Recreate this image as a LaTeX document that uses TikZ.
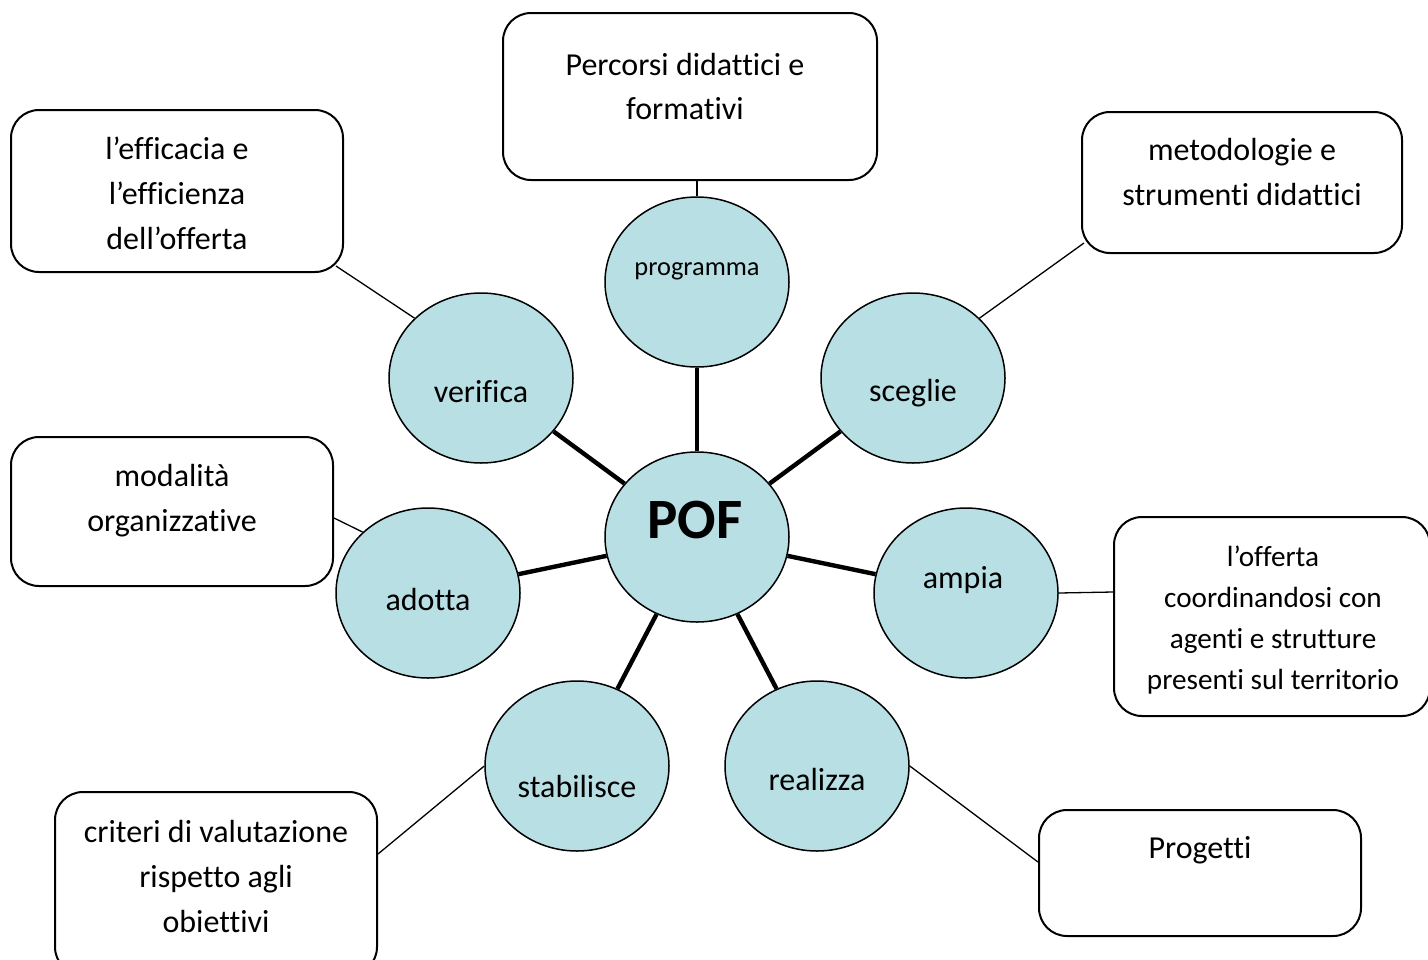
\documentclass[tikz,border=0pt]{standalone}
\usepackage{fontspec}
\setmainfont[Ligatures={NoCommon}]{Carlito}
\usetikzlibrary{shapes.geometric,calc}
\definecolor{bub}{RGB}{184,223,227}
\begin{document}
\begin{tikzpicture}[x=0.5pt,y=-0.5pt,
 bubble/.style={ellipse,draw,fill=bub,line width=0.75pt,minimum width=92pt,minimum height=85pt,inner sep=0pt},
 box/.style={draw,rounded corners=14pt,line width=1pt,inner sep=0pt},
 txt/.style={anchor=base,inner sep=0pt,font=\fontsize{16}{19}\selectfont},
 stxt/.style={anchor=base,inner sep=0pt,font=\fontsize{14.6}{18}\selectfont},
 ptxt/.style={anchor=base,inner sep=0pt,font=\fontsize{13.2}{16}\selectfont},
 thinline/.style={line width=0.65pt},
 thickline/.style={line width=2.2pt}]
\useasboundingbox (0,0) rectangle (1428,959);
% boxes
\node[box,minimum width=187pt,minimum height=83.5pt] (tbox) at (690,96.5) {};
\node[box,minimum width=166pt,minimum height=81pt] (tlbox) at (177,191) {};
\node[box,minimum width=160pt,minimum height=70.5pt] (trbox) at (1242,182.5) {};
\node[box,minimum width=161pt,minimum height=74.5pt] (lmbox) at (172,511.5) {};
\node[box,minimum width=158pt,minimum height=99.5pt] (rmbox) at (1272,616.5) {};
\node[box,minimum width=161pt,minimum height=91.5pt] (blbox) at (216,883.5) {};
\node[box,minimum width=161pt,minimum height=63pt] (brbox) at (1200,873) {};
% bubbles
\node[bubble] (prog) at (697,282) {};
\node[bubble] (pof) at (697,537) {};
\node[bubble] (ver) at (481,378) {};
\node[bubble] (sce) at (913,378) {};
\node[bubble] (ado) at (428,593) {};
\node[bubble] (amp) at (966,593) {};
\node[bubble] (sta) at (577,766) {};
\node[bubble] (rea) at (817,766) {};
% thick connectors
\foreach \b in {prog,ver,sce,ado,amp,sta,rea}{\draw[thickline] (pof) -- (\b);}
% thin connectors
\coordinate (ct) at (tbox.south -| prog.north);
\coordinate (ctl) at ($(tlbox.south east)+(-8,-7)$);
\coordinate (ctr) at ($(trbox.south west)+(3,-11)$);
\coordinate (clm) at ($(lmbox.east)+(0,6.5)$);
\coordinate (crm) at ($(rmbox.west)+(0,-24.5)$);
\coordinate (cbl) at ($(blbox.north east)+(0,63)$);
\coordinate (cbr) at ($(brbox.west)+(0,-11)$);
\draw[thinline] (ct) -- (prog.north);
\draw[thinline] (ctl) -- (ver.138);
\draw[thinline] (ctr) -- (sce.42.7);
\draw[thinline] (clm) -- (ado.137.7);
\draw[thinline] (crm) -- (amp.east);
\draw[thinline] (cbl) -- (sta.west);
\draw[thinline] (cbr) -- (rea.east);
% bubble texts
\node[ptxt] (tprog) at (697,275) {programma};
\node[anchor=base,inner sep=0pt,font=\fontsize{28.5}{34}\selectfont\bfseries] (tpof) at (695,538) {POF};
\node[txt] (tver) at (481,402) {verifica};
\node[txt] (tsce) at (913,401) {sceglie};
\node[txt] (tado) at (428,610) {adotta};
\node[txt] (tamp) at (963,588) {ampia};
\node[txt] (tsta) at (577,797) {stabilisce};
\node[txt] (trea) at (817,790) {realizza};
% box texts
\node[txt] (t1a) at (685,75) {Percorsi didattici e};
\node[txt] (t1b) at (685,119) {formativi};
\node[txt] (t2a) at (177,159) {l’efficacia e};
\node[txt] (t2b) at (177,204) {l’efficienza};
\node[txt] (t2c) at (177,249) {dell’offerta};
\node[txt] (t3a) at (1242,160) {metodologie e};
\node[txt] (t3b) at (1242,205) {strumenti didattici};
\node[txt] (t4a) at (172,486) {modalità};
\node[txt] (t4b) at (172,531) {organizzative};
\node[stxt] (t5a) at (1273,566) {l’offerta};
\node[stxt] (t5b) at (1273,607) {coordinandosi con};
\node[stxt] (t5c) at (1273,648) {agenti e strutture};
\node[stxt] (t5d) at (1273,689) {presenti sul territorio};
\node[txt] (t6a) at (216,842) {criteri di valutazione};
\node[txt] (t6b) at (216,887) {rispetto agli};
\node[txt] (t6c) at (216,932) {obiettivi};
\node[txt] (t7a) at (1200,858) {Progetti};
\end{tikzpicture}
\end{document}
